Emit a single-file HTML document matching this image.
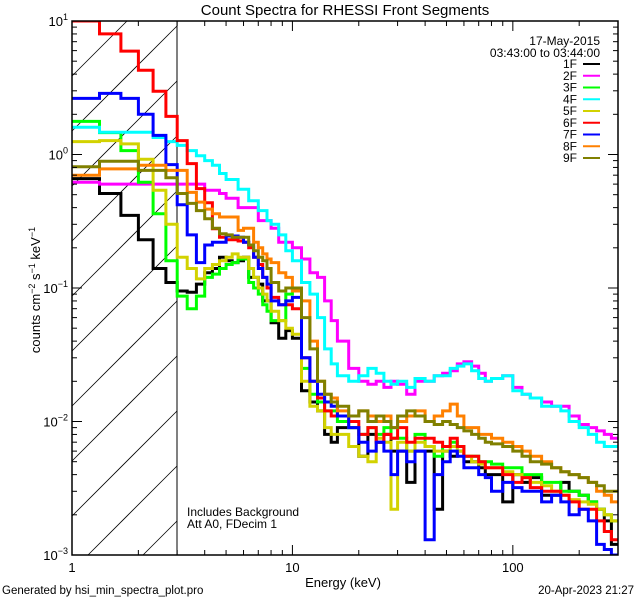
<!DOCTYPE html>
<html><head><meta charset="utf-8"><style>
html,body{margin:0;padding:0;background:#fff;width:640px;height:600px;overflow:hidden;}
svg{display:block;font-family:"Liberation Sans",sans-serif;overflow:hidden;}
</style></head><body>
<svg id="chart" width="640" height="600" viewBox="0 0 640 600" xmlns="http://www.w3.org/2000/svg">
<defs><clipPath id="plotclip"><rect x="72" y="21" width="546" height="534"/></clipPath></defs>
<rect width="640" height="600" fill="#fff"/>
<text x="345" y="15" font-size="15" text-anchor="middle">Count Spectra for RHESSI Front Segments</text>
<g id="hatch"></g>
<line x1="177" y1="21" x2="177" y2="555" stroke="#000" stroke-width="1"/>
<g id="series" clip-path="url(#plotclip)"></g>
<rect x="72" y="21" width="546" height="534" fill="none" stroke="#000" stroke-width="1.5"/>
<g id="axes"></g>
<text transform="translate(40,290) rotate(-90)" font-size="13" text-anchor="middle">counts cm<tspan dy="-5" font-size="9">−2</tspan><tspan dy="5"> s</tspan><tspan dy="-5" font-size="9">−1</tspan><tspan dy="5"> keV</tspan><tspan dy="-5" font-size="9">−1</tspan></text>
<text x="343" y="587" font-size="13" text-anchor="middle">Energy (keV)</text>
<text x="2" y="594" font-size="11.5">Generated by hsi_min_spectra_plot.pro</text>
<text x="634" y="594" font-size="11.5" text-anchor="end">20-Apr-2023 21:27</text>
<text x="187" y="516" font-size="12">Includes Background</text>
<text x="187" y="528" font-size="12">Att A0, FDecim 1</text>
<text x="600" y="45" font-size="12" text-anchor="end">17-May-2015</text>
<text x="600" y="57" font-size="12" text-anchor="end">03:43:00 to 03:44:00</text>
<g id="legend"></g>
</svg>
<script>
const edges=[1,1.333,1.667,2,2.333,2.667,3,3.333,3.667,4,4.333,4.667,5,5.333,5.667,6,6.333,6.667,7,7.333,7.667,8,8.667,9.333,10,11,12,13,14,15,16,18,20,22,24,26,28,30,33,36,40,44,48,52,56,60,65,70,75,80,90,100,110,120,135,150,165,180,200,220,240,260,280,300];
const segNames=["1F","2F","3F","4F","5F","6F","7F","8F","9F"];
const segColors=["#000000","#ff00ff","#00ff00","#00ffff","#d2d200","#ff0000","#0000ff","#ff8000","#808000"];
const s1F=[0.66,0.51,0.35,0.23,0.14,0.11,0.095,0.093,0.107,0.13,0.14,0.17,0.16,0.155,0.16,0.17,0.12,0.12,0.107,0.08,0.08,0.055,0.042,0.048,0.042,
0.017,0.014,0.012,0.008,0.007,0.009,0.009,0.0055,0.008,0.007,0.008,0.006,0.006,0.0035,0.006,0.006,0.0022,0.006,0.0055,0.006,0.005,0.005,0.0045,0.004,0.004,0.0025,0.004,0.0035,0.0038,0.0028,0.0028,0.0035,0.003,0.0028,0.0025,0.0022,0.0018,0.0012];
const s2F=[0.62,0.6,0.6,0.6,0.6,0.6,0.6,0.6,0.6,0.54,0.54,0.51,0.47,0.47,0.4,0.4,0.4,0.4,0.32,0.32,0.32,0.28,0.22,0.22,0.2,
0.165,0.13,0.12,0.08,0.057,0.04,0.025,0.02,0.019,0.02,0.018,0.02,0.019,0.016,0.02,0.02,0.022,0.023,0.024,0.027,0.028,0.026,0.023,0.02,0.021,0.022,0.018,0.016,0.015,0.014,0.013,0.013,0.011,0.0095,0.009,0.0085,0.008,0.0075];
const s3F=[1.77,1.46,1.07,0.62,0.36,0.16,0.087,0.07,0.087,0.12,0.127,0.14,0.15,0.155,0.165,0.165,0.11,0.1,0.09,0.075,0.067,0.057,0.057,0.09,0.1,
0.025,0.016,0.014,0.012,0.012,0.01,0.009,0.008,0.009,0.008,0.009,0.0075,0.0075,0.006,0.008,0.0065,0.0055,0.0065,0.007,0.0065,0.0055,0.0055,0.005,0.005,0.0048,0.0045,0.0045,0.004,0.004,0.0035,0.0035,0.003,0.003,0.0028,0.0025,0.0022,0.002,0.0018];
const s4F=[1.6,1.47,1.47,1.47,1.34,1.25,1.17,1.07,0.98,0.9,0.83,0.72,0.65,0.65,0.55,0.55,0.45,0.45,0.38,0.38,0.32,0.3,0.25,0.19,0.16,
0.11,0.09,0.06,0.035,0.027,0.022,0.02,0.022,0.025,0.023,0.02,0.019,0.02,0.018,0.021,0.02,0.022,0.022,0.025,0.026,0.027,0.024,0.021,0.02,0.021,0.022,0.017,0.016,0.015,0.013,0.013,0.012,0.01,0.009,0.008,0.007,0.0065,0.0065];
const s5F=[1.25,1.27,1.2,0.92,0.54,0.3,0.17,0.14,0.117,0.14,0.15,0.16,0.17,0.18,0.17,0.17,0.14,0.12,0.1,0.09,0.08,0.067,0.057,0.05,0.045,
0.02,0.013,0.012,0.009,0.008,0.008,0.0065,0.0055,0.005,0.0075,0.007,0.0022,0.007,0.006,0.007,0.0065,0.006,0.006,0.0065,0.006,0.0055,0.005,0.0048,0.0045,0.0045,0.0042,0.004,0.0038,0.0035,0.0033,0.003,0.0028,0.0026,0.0025,0.0024,0.0022,0.002,0.0018];
const s6F=[10,8.0,5.95,4.28,2.98,1.93,1.27,0.855,0.555,0.435,0.278,0.24,0.23,0.23,0.225,0.22,0.2,0.17,0.15,0.12,0.1,0.085,0.075,0.075,0.07,
0.03,0.02,0.015,0.012,0.011,0.011,0.01,0.008,0.009,0.007,0.008,0.0075,0.009,0.007,0.0075,0.0075,0.007,0.0065,0.0075,0.0065,0.0055,0.0055,0.005,0.0045,0.0045,0.004,0.0035,0.0038,0.0032,0.003,0.003,0.0028,0.0025,0.0022,0.0022,0.0018,0.0015,0.0013];
const s7F=[2.63,2.87,2.63,2.0,1.39,0.84,0.42,0.25,0.155,0.21,0.22,0.22,0.245,0.245,0.24,0.22,0.21,0.17,0.14,0.12,0.107,0.08,0.075,0.08,0.085,
0.03,0.02,0.016,0.014,0.013,0.011,0.009,0.007,0.006,0.007,0.006,0.004,0.006,0.005,0.006,0.0013,0.004,0.005,0.006,0.0055,0.0045,0.0045,0.004,0.0038,0.003,0.0035,0.0032,0.003,0.003,0.0025,0.0028,0.0025,0.002,0.0022,0.0018,0.0012,0.0011,0.001];
const s8F=[0.7,0.78,0.78,0.83,0.83,0.76,0.76,0.52,0.44,0.39,0.36,0.34,0.34,0.34,0.27,0.28,0.28,0.22,0.2,0.18,0.165,0.155,0.13,0.12,0.095,
0.08,0.04,0.02,0.016,0.015,0.012,0.011,0.012,0.011,0.01,0.011,0.009,0.01,0.011,0.012,0.01,0.011,0.012,0.0135,0.011,0.009,0.009,0.008,0.008,0.0075,0.007,0.0065,0.006,0.0055,0.005,0.0045,0.0042,0.004,0.0038,0.0035,0.003,0.0028,0.0025];
const s9F=[0.81,0.89,0.89,0.76,0.76,0.67,0.51,0.43,0.38,0.33,0.28,0.255,0.25,0.24,0.24,0.24,0.21,0.19,0.17,0.16,0.14,0.11,0.095,0.1,0.1,
0.06,0.035,0.02,0.016,0.014,0.013,0.011,0.012,0.01,0.011,0.01,0.009,0.011,0.012,0.011,0.01,0.0095,0.01,0.0095,0.009,0.0085,0.008,0.0075,0.007,0.0068,0.0065,0.006,0.0055,0.005,0.0048,0.0045,0.0042,0.004,0.0038,0.0035,0.0033,0.003,0.003];
const seriesValues=[s1F,s2F,s3F,s4F,s5F,s6F,s7F,s8F,s9F];
const xTickMajor=[1,10,100];
const xTickLabels=["1","10","100"];
const yTickExp=[1,0,-1,-2,-3];

const NS="http://www.w3.org/2000/svg";
const X0=72,X1=618,Y0=21,Y1=555;
const xMin=1,xMax=300,yMin=1e-3,yMax=10;
function xs(e){return X0+(Math.log10(e)-Math.log10(xMin))/(Math.log10(xMax)-Math.log10(xMin))*(X1-X0);}
function ys(v){return Y1-(Math.log10(v)-Math.log10(yMin))/(Math.log10(yMax)-Math.log10(yMin))*(Y1-Y0);}
function mk(tag,attrs,parent){const el=document.createElementNS(NS,tag);for(const k in attrs)el.setAttribute(k,attrs[k]);parent.appendChild(el);return el;}

// hatch lines clipped analytically to the region x in [X0,177], y in [Y0,Y1]
const hatch=document.getElementById('hatch');
const HX=177;
for(let c=Y0-110;c<Y1+110;c+=55){
  // line: y = c - (x - X0)
  let xa=X0, xb=HX;
  // y at xa = c, y at xb = c-(HX-X0)
  // clamp to y range
  if(c>Y1) xa=X0+(c-Y1);
  if(c-(HX-X0)<Y0) xb=X0+(c-Y0);
  if(xb<=xa) continue;
  const ln=mk('line',{x1:xa.toFixed(1),y1:(c-(xa-X0)).toFixed(1),x2:xb.toFixed(1),y2:(c-(xb-X0)).toFixed(1),stroke:'#000','stroke-width':0.8},hatch);
  
  
}

const sg=document.getElementById('series');
seriesValues.forEach((vals,si)=>{
  let d='';
  const n=Math.min(vals.length,edges.length-1);
  for(let i=0;i<n;i++){
    const y=Math.min(Math.max(ys(vals[i]),Y0),Y1).toFixed(1), xa=xs(edges[i]).toFixed(1), xb=xs(edges[i+1]).toFixed(1);
    d+=(i===0?'M':'L')+xa+','+y+'L'+xb+','+y;
  }
  const p=mk('path',{d:d,fill:'none',stroke:segColors[si],'stroke-width':3,'stroke-linejoin':'miter'},sg);
  
  
});

const ax=document.getElementById('axes');
for(let dec=0;dec<3;dec++){
  for(let m=1;m<10;m++){
    const e=m*Math.pow(10,dec); if(e>xMax) break;
    const x=xs(e), L=(m===1)?10:5;
    const t1=mk('line',{x1:x,y1:Y1,x2:x,y2:Y1-L,stroke:'#000','stroke-width':1},ax);
    
    
    const t2=mk('line',{x1:x,y1:Y0,x2:x,y2:Y0+L,stroke:'#000','stroke-width':1},ax);
    
    
  }
}
xTickMajor.forEach((e,i)=>{
  const t=mk('text',{x:xs(e),y:572,'font-size':13,'text-anchor':'middle'},ax);
  t.textContent=xTickLabels[i];
  
  
});
for(let p=-3;p<1;p++){
  for(let m=1;m<10;m++){
    const v=m*Math.pow(10,p); const y=ys(v), L=(m===1)?10:5;
    const t1=mk('line',{x1:X0,y1:y,x2:X0+L,y2:y,stroke:'#000','stroke-width':1},ax);
    
    
    const t2=mk('line',{x1:X1,y1:y,x2:X1-L,y2:y,stroke:'#000','stroke-width':1},ax);
    
    
  }
}
yTickExp.forEach(ex=>{
  const y=ys(Math.pow(10,ex));
  const t=mk('text',{x:68,y:y+5,'font-size':13,'text-anchor':'end'},ax);
  
  
  const a=document.createElementNS(NS,'tspan');a.textContent='10';t.appendChild(a);
  const b=document.createElementNS(NS,'tspan');b.setAttribute('dy','-6');b.setAttribute('font-size','9');
  b.textContent=(ex<0?'−':'')+Math.abs(ex);t.appendChild(b);
});

const lg=document.getElementById('legend');
segNames.forEach((nm,i)=>{
  const y=64+i*11.75;
  const t=mk('text',{x:577,y:y+4,'font-size':12,'text-anchor':'end'},lg);
  t.textContent=nm;
  
  
  const l=mk('line',{x1:583,y1:y,x2:600,y2:y,stroke:segColors[i],'stroke-width':2},lg);
  
  
});
</script>
</body></html>
